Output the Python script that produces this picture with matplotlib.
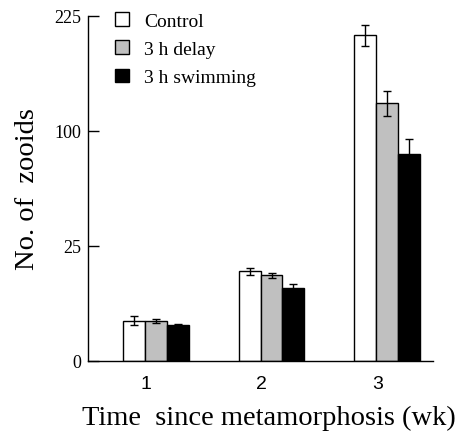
import numpy as np
import matplotlib
matplotlib.use("Agg")
import matplotlib.pyplot as plt

weeks = ["1", "2", "3"]
series_names = ["Control", "3 h delay", "3 h swimming"]
control = [3.1, 15.2, 201.0]
delay = [3.0, 13.9, 125.5]
swimming = [2.5, 10.0, 81.0]
control_err = [0.7, 1.1, 13.0]
delay_err = [0.3, 0.8, 12.0]
swimming_err = [0.1, 1.1, 12.0]
yticks = [0, 25, 100, 225]

colors = ["white", "#c0c0c0", "black"]
serif = ["Liberation Serif", "DejaVu Serif"]

fig = plt.figure(figsize=(4.55, 4.35), dpi=100)
ax = fig.add_axes([88/455, 1 - 362/435, (433-88)/455, (362-17)/435])
ax.set_yscale("function", functions=(lambda y: np.sqrt(np.clip(y, 0, None)), lambda y: y**2))

x = np.arange(1, len(weeks) + 1)
w = 0.19
vals = [control, delay, swimming]
errs = [control_err, delay_err, swimming_err]
for i, (v, e, c, n) in enumerate(zip(vals, errs, colors, series_names)):
    ax.bar(x + (i - 1) * w, v, width=w, color=c, edgecolor="black", linewidth=1.0,
           yerr=e, capsize=3, error_kw=dict(elinewidth=1, capthick=1, ecolor="black"), label=n)

ax.set_xlim(1 - 68/115.5, 3 + 46/115.5)
ax.set_ylim(0, 225)
ax.set_yticks(yticks)
ax.set_yticklabels([str(t) for t in yticks], fontfamily=serif, fontsize=13)
ax.tick_params(axis="y", direction="in", length=8, width=1, pad=5)
ax.set_xticks(x - 0.085)
ax.set_xticklabels(weeks, fontfamily=["Liberation Sans", "DejaVu Sans"], fontsize=14)
ax.tick_params(axis="x", length=0, pad=10)
for s in ["top", "right"]:
    ax.spines[s].set_visible(False)
ax.spines["left"].set_linewidth(1)
ax.spines["bottom"].set_linewidth(1)

ax.set_ylabel("No. of  zooids", fontfamily=serif, fontsize=20.5, labelpad=10)
fig.text(82/455, 1 - 418/435, "Time  since metamorphosis (wk)", fontfamily=serif, fontsize=20.5,
         ha="left", va="center")

leg = ax.legend(loc="upper left", bbox_to_anchor=(115/455, 1 - 13/435), bbox_transform=fig.transFigure,
                frameon=False, prop=dict(family=serif, size=14), handlelength=0.7, handleheight=0.7,
                handletextpad=0.8, labelspacing=0.55, borderaxespad=0, borderpad=0)

fig.savefig("out.png", dpi=100)
